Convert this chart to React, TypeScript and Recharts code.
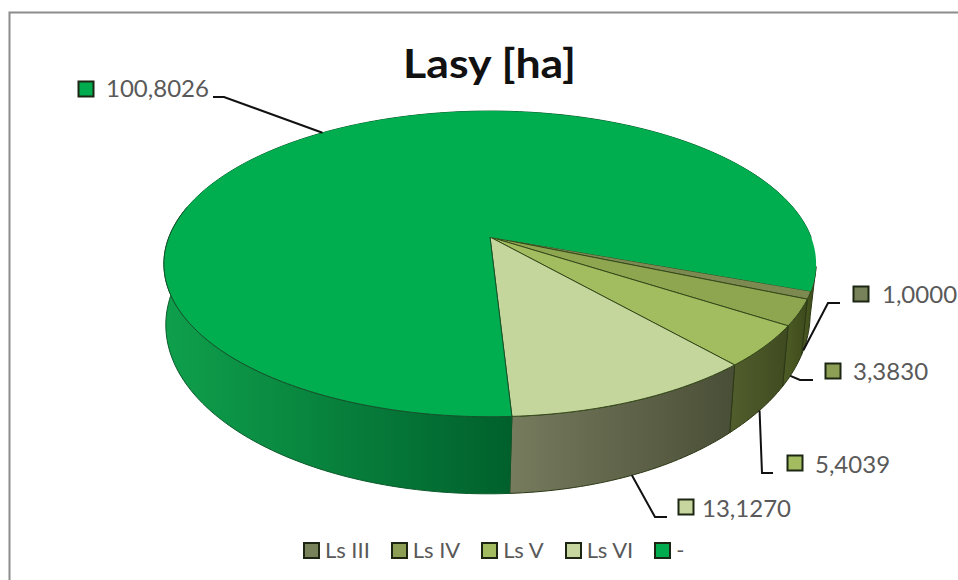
import React from "react";
import { PieChart, Pie, Legend } from "recharts";

const TITLE = "Lasy [ha]";
const categories = ["Ls III", "Ls IV", "Ls V", "Ls VI", "-"];
const areas = [1.0, 3.383, 5.4039, 13.127, 100.8026];
const topColors = ["#7c8a52", "#8fa650", "#a2bd5f", "#c5d69c", "#00ae50"];
const markerColors = ["#77825a", "#8d9f54", "#a3bc60", "#c7d69e", "#00ac4e"];
const wallFrom = ["#46551f", "#4b5924", "#515c2c", "#767b5e", "#0fa04c"];
const wallTo = ["#3a4818", "#3d4a1b", "#3f4a20", "#494e36", "#00602c"];

// layout of the callouts: marker centre, text start, text baseline, elbow of the leader, end at the text
const calloutMarker = [[861, 294], [833, 371], [795, 463], [686, 507], [86, 89]];
const calloutText = [[882, 303], [853, 380], [815, 473], [702, 517], [106, 97]];
const calloutElbow = [[828, 303], [800, 380], [762, 473], [655, 517], [224, 97]];
const calloutEnd = [[840, 303], [813, 380], [773, 473], [667, 517], [213, 97]];
const calloutNudge = [[0, 0], [-3, 5], [0, 0], [0, 0], [0, 0]];

const table = categories.map((name, i) => ({ name, value: areas[i], fill: topColors[i] }));

const W = 958;
const H = 580;
const CX = 490;
const CY = 237;
const R = 321;
const START = -20.1;
const FONT = "Lato, 'Open Sans', sans-serif";

// perspective projection of the pie's disc
const PERSP = -0.176;
const SQUASH = 0.4614;
const project = (cx: number, cy: number, r: number, theta: number) => {
  const t = (theta * Math.PI) / 180;
  const u = Math.cos(t);
  const v = Math.sin(t);
  const d = 1 + PERSP * v;
  return { x: cx + (r * u) / d, y: cy + (r * SQUASH * v) / d };
};
// the same rim point on the lower edge of the wall
const lower = (p: { x: number; y: number }, cx: number, cy: number) => {
  const t = Math.min(1, Math.max(0, (p.x - cx) / 250));
  const rightY = 1.18 * p.y + 2;
  const leftY = 1.105 * p.y + 33.3;
  return { x: cx - 2 + (p.x - cx) * 0.988, y: rightY * t + leftY * (1 - t) };
};

const rim = (cx: number, cy: number, r: number, from: number, to: number) => {
  const n = Math.max(2, Math.ceil(Math.abs(to - from)));
  const pts = [];
  for (let k = 0; k <= n; k++) pts.push(project(cx, cy, r, from + ((to - from) * k) / n));
  return pts;
};
const toLine = (pts: { x: number; y: number }[]) =>
  pts.map((p, i) => `${i ? "L" : "M"}${p.x.toFixed(2)} ${p.y.toFixed(2)}`).join(" ");
const toPath = (pts: { x: number; y: number }[]) => toLine(pts) + " Z";

const sliceIndex = (props: any) => categories.indexOf(props.payload?.name ?? props.name);

const TopFace = (props: any) => {
  const { cx, cy, outerRadius, startAngle, endAngle } = props;
  const i = sliceIndex(props);
  const apex = { x: cx, y: cy };
  const pts = [apex, ...rim(cx, cy, outerRadius, -startAngle, -endAngle)];
  if (i === 4) {
    // the large slice has its dark edge only along the front of the disc
    return (
      <g>
        <path d={toPath(pts)} fill={topColors[i]} stroke="none" />
        <path d={toLine([apex, ...rim(cx, cy, outerRadius, -startAngle, 192)])} fill="none" stroke="#14532a" strokeWidth={1} />
      </g>
    );
  }
  return <path d={toPath(pts)} fill={topColors[i]} stroke="#34491a" strokeWidth={1} strokeLinejoin="round" />;
};

const Wall = (props: any) => {
  const { cx, cy, outerRadius, startAngle, endAngle } = props;
  const i = sliceIndex(props);
  let from = -startAngle;
  let to = -endAngle;
  if (i === 0) from -= 9; // closes the silhouette behind the first slice
  if (i === 4) to = Math.min(to, 360);
  const top = rim(cx, cy, outerRadius, from, to);
  const bottom = top.map((p) => lower(p, cx, cy)).reverse();
  const id = `wall-${i}`;
  const front = top.filter((p) => p.y > cy + 20);
  const xs = (front.length ? front : top).map((p) => p.x);
  const x1 = Math.min(...xs);
  const x2 = Math.max(...xs);
  return (
    <g>
      <defs>
        <linearGradient id={id} gradientUnits="userSpaceOnUse" x1={x1} x2={x2} y1={0} y2={0}>
          <stop offset="0" stopColor={wallFrom[i]} />
          <stop offset="1" stopColor={wallTo[i]} />
        </linearGradient>
      </defs>
      <path d={toPath([...top, ...bottom])} fill={`url(#${id})`} stroke={i === 4 ? "#0a5a2a" : "#2c3815"} strokeWidth={1} strokeLinejoin="round" />
    </g>
  );
};

const Callout = (props: any) => {
  const { index, value, midAngle, cx, cy, outerRadius } = props;
  const rimPoint = project(cx, cy, outerRadius, -midAngle);
  const base = index === 4 ? rimPoint : lower(rimPoint, cx, cy);
  const p = { x: base.x + calloutNudge[index][0], y: base.y + calloutNudge[index][1] };
  const [mx, my] = calloutMarker[index];
  const [tx, ty] = calloutText[index];
  const [ex, ey] = calloutElbow[index];
  const [ax, ay] = calloutEnd[index];
  return (
    <g>
      <polyline points={`${p.x},${p.y} ${ex},${ey} ${ax},${ay}`} fill="none" stroke="#111" strokeWidth={2} />
      <rect x={mx - 7.5} y={my - 7.5} width={15} height={15} fill={markerColors[index]} stroke="#1c2612" strokeWidth={2} />
      <text x={tx} y={ty} fontFamily={FONT} fontSize={24} fill="#595959">
        {Number(value).toFixed(4).replace(".", ",")}
      </text>
    </g>
  );
};

const LegendRow = ({ payload }: any) => {
  const names = categories.filter((c) => (payload || []).some((e: any) => e.value === c));
  return (
    <div style={{ display: "flex", alignItems: "center", paddingLeft: 303, fontFamily: FONT, fontSize: 22, color: "#595959", lineHeight: "24px", whiteSpace: "nowrap" }}>
      {names.map((name) => (
        <div key={name} style={{ display: "flex", alignItems: "center", marginRight: 21 }}>
          <span style={{ display: "block", width: 13, height: 13, border: "2px solid #1c2612", background: markerColors[categories.indexOf(name)], marginRight: 5 }} />
          <span>{name}</span>
        </div>
      ))}
    </div>
  );
};

export default function App() {
  return (
    <div style={{ width: W, height: H, overflow: "hidden", background: "#fff" }}>
      <style>{`html,body{margin:0;overflow:hidden;background:#fff}`}</style>
      <PieChart width={W} height={H} margin={{ top: 0, right: 0, bottom: 0, left: 0 }}>
        <rect x={9.5} y={12.5} width={1200} height={1200} fill="#fff" stroke="#8c8c8c" strokeWidth={2} />
        <text x={489.5} y={78} textAnchor="middle" fontFamily={FONT} fontWeight={700} fontSize={41} textLength={173} lengthAdjust="spacingAndGlyphs" fill="#111">
          {TITLE}
        </text>
        <Pie
          data={table}
          dataKey="value"
          nameKey="name"
          cx={CX}
          cy={CY}
          outerRadius={R}
          startAngle={START}
          endAngle={START - 360}
          isAnimationActive={false}
          legendType="none"
          shape={Wall}
          label={false}
          labelLine={false}
        />
        <Pie
          data={table}
          dataKey="value"
          nameKey="name"
          cx={CX}
          cy={CY}
          outerRadius={R}
          startAngle={START}
          endAngle={START - 360}
          isAnimationActive={false}
          shape={TopFace}
          label={Callout}
          labelLine={false}
        />
        <Legend content={LegendRow} wrapperStyle={{ left: 0, width: W, top: 538, bottom: "auto" }} />
      </PieChart>
    </div>
  );
}
